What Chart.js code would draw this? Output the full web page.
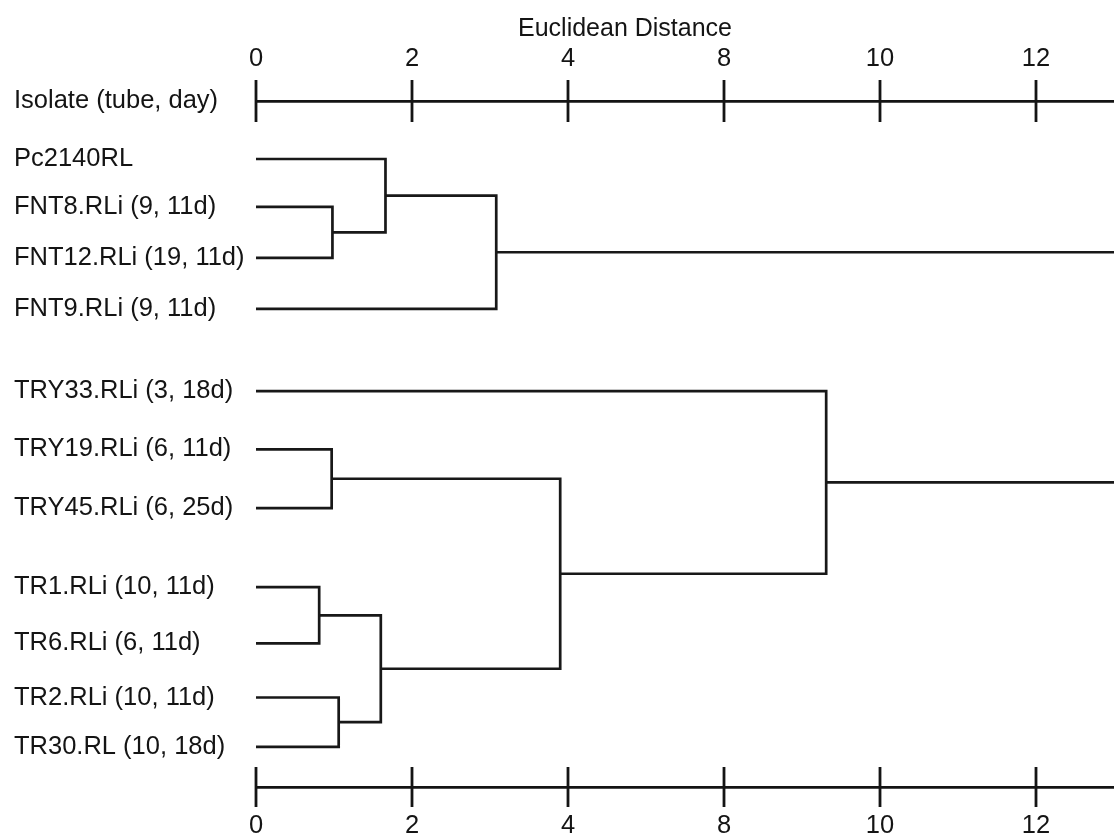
<!DOCTYPE html>
<html>
<head>
<meta charset="utf-8">
<title>Euclidean Distance dendrogram</title>
<script src="https://cdn.jsdelivr.net/npm/chart.js@4.4.1/dist/chart.umd.min.js"></script>
<style>
    html, body { margin: 0; padding: 0; background: #ffffff; }
    #wrap { position: relative; width: 1114px; height: 836px; }
</style>
</head>
<body>
<div id="wrap"><canvas id="dendro"></canvas></div>
<script>
// ─── DATA ─────────────────────────────────────────────────
const axisTitle   = 'Euclidean Distance';
const headerLabel = 'Isolate (tube, day)';

// axis ticks are evenly spaced even though the values are not
const tickValues = [0, 2, 4, 8, 10, 12];
const tickLabels = ['0', '2', '4', '8', '10', '12'];

// leaves, top to bottom
const isolates = [
    'Pc2140RL',
    'FNT8.RLi (9, 11d)',
    'FNT12.RLi (19, 11d)',
    'FNT9.RLi (9, 11d)',
    'TRY33.RLi (3, 18d)',
    'TRY19.RLi (6, 11d)',
    'TRY45.RLi (6, 25d)',
    'TR1.RLi (10, 11d)',
    'TR6.RLi (6, 11d)',
    'TR2.RLi (10, 11d)',
    'TR30.RL (10, 18d)',
];
// row of each leaf (groups are separated by a wider gap)
const leafRow = [0, 0.92, 1.9, 2.88, 4.46, 5.58, 6.71, 8.23, 9.31, 10.35, 11.3];

// linkage: node 11 + i joins mergeA[i] and mergeB[i] at mergeDist[i]
const mergeA    = [1,    0,    12,   5,    7,    9,    15,   14,   4,    13];
const mergeB    = [2,    11,   3,    6,    8,    10,   16,   17,   18,   19];
const mergeDist = [0.98, 1.66, 3.08, 0.97, 0.81, 1.06, 1.60, 3.90, 9.31, 15.0];

// ─── HELPERS ──────────────────────────────────────────────
// distance -> position along the (non linear) axis
function toPos(d) {
    for (let i = 1; i < tickValues.length; i++) {
        if (d <= tickValues[i]) {
            const a = tickValues[i - 1], b = tickValues[i];
            return (i - 1) + (d - a) / (b - a);
        }
    }
    const last = tickValues.length - 1;
    const step = tickValues[last] - tickValues[last - 1];
    return last + (d - tickValues[last]) / step;
}

// build one bracket dataset per merge
const nLeaves = isolates.length;
const nodeY = leafRow.slice();
const nodeH = isolates.map(() => 0);
const links = [];
mergeA.forEach((a, i) => {
    const b = mergeB[i];
    const h = toPos(mergeDist[i]);
    links.push({
        data: [
            { x: nodeH[a], y: nodeY[a] },
            { x: h,        y: nodeY[a] },
            { x: h,        y: nodeY[b] },
            { x: nodeH[b], y: nodeY[b] },
        ],
        showLine: true,
        borderColor: '#181818',
        borderWidth: 2.7,
        borderCapStyle: 'butt',
        borderJoinStyle: 'miter',
        pointRadius: 0,
        tension: 0,
        xAxisID: 'x',
        yAxisID: 'y',
    });
    nodeY[nLeaves + i] = (nodeY[a] + nodeY[b]) / 2;
    nodeH[nLeaves + i] = h;
});

// ─── CHART ────────────────────────────────────────────────
const FONT = '"Liberation Sans", Arial, Helvetica, sans-serif';
const INK  = '#141414';
const SIZE = 25.5;
const Y_MIN = -1.115, Y_MAX = 12.07;
const X_MAX = 5.5;

const evenTicks = (scale) => {
    scale.ticks = tickValues.map((v, i) => ({ value: i }));
};

// symmetric tick marks across both axis lines + the title
const axisMarks = {
    id: 'axisMarks',
    afterDraw(chart) {
        const { ctx, chartArea } = chart;
        ctx.save();
        ctx.strokeStyle = INK;
        ctx.lineWidth = 2.8;
        [['x', chartArea.top, 21], ['x2', chartArea.bottom, 20]].forEach(([id, y, half]) => {
            const sc = chart.scales[id];
            sc.ticks.forEach((t) => {
                const px = sc.getPixelForValue(t.value);
                ctx.beginPath();
                ctx.moveTo(px, y - half);
                ctx.lineTo(px, y + half);
                ctx.stroke();
            });
        });
        ctx.fillStyle = INK;
        ctx.font = `25px ${FONT}`;
        ctx.textAlign = 'center';
        ctx.textBaseline = 'middle';
        ctx.fillText(axisTitle, 625, 29);
        ctx.restore();
    }
};

const xAxis = (position, padding, height) => ({
    type: 'linear',
    position,
    min: 0,
    max: X_MAX,
    afterBuildTicks: evenTicks,
    afterFit: (scale) => { scale.height = height; },
    grid: { display: false, drawTicks: false },
    border: { display: true, color: INK, width: 2.7 },
    ticks: {
        autoSkip: false,
        maxRotation: 0,
        padding,
        color: INK,
        font: { family: FONT, size: SIZE },
        callback: (v, i) => tickLabels[i],
    },
});

new Chart(document.getElementById('dendro'), {
    type: 'scatter',
    data: { datasets: links },
    options: {
        responsive: true,
        maintainAspectRatio: false,
        animation: false,
        layout: { padding: { left: 14, right: 0, top: 0, bottom: 0 } },
        scales: {
            x:  xAxis('top', 27, 101),
            x2: xAxis('bottom', 24, 49),
            y: {
                type: 'linear',
                reverse: true,
                min: Y_MIN,
                max: Y_MAX,
                afterBuildTicks: (scale) => {
                    scale.ticks = [{ value: Y_MIN }].concat(leafRow.map((v) => ({ value: v })));
                },
                afterFit: (scale) => { scale.width = 242; },
                grid: { display: false, drawTicks: false },
                border: { display: false },
                ticks: {
                    autoSkip: false,
                    crossAlign: 'far',
                    padding: 0,
                    color: INK,
                    font: { family: FONT, size: SIZE },
                    callback: (v, i) => (i === 0 ? headerLabel : isolates[i - 1]),
                },
            },
        },
        plugins: {
            legend: { display: false },
            tooltip: { enabled: false },
            title: { display: false },
        },
    },
    plugins: [axisMarks],
});
</script>
</body>
</html>
